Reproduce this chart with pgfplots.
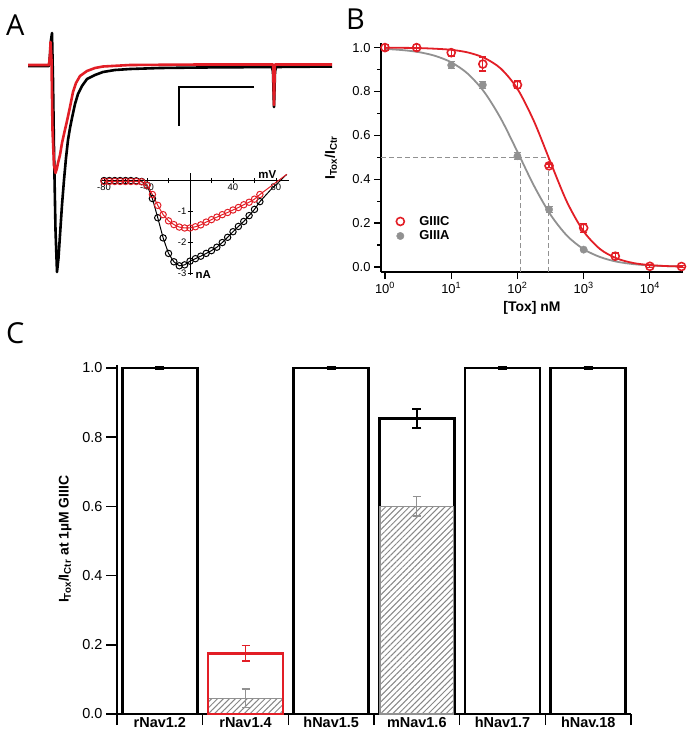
\documentclass[border=0pt]{standalone}
\usepackage{fontspec}
\setmainfont{Liberation Sans}
\newfontfamily\panelfont{Open Sans}
\usepackage{pgfplots}
\pgfplotsset{compat=1.18}
\usetikzlibrary{patterns.meta}
\definecolor{tred}{RGB}{226,30,38}
\definecolor{tgray}{RGB}{145,145,145}
\definecolor{hatch}{RGB}{135,135,135}

\begin{document}
\begin{tikzpicture}
\useasboundingbox (0bp,0bp) rectangle (695bp,-744bp);

% panel letters
\node[anchor=base west,inner sep=0pt,font=\panelfont\fontsize{29}{30}\selectfont] at (6bp,-35bp) {A};
\node[anchor=base west,inner sep=0pt,font=\panelfont\fontsize{29}{30}\selectfont] at (346bp,-29bp) {B};
\node[anchor=base west,inner sep=0pt,font=\panelfont\fontsize{29}{30}\selectfont] at (6bp,-343bp) {C};

% ---- A: current traces (pixel units, y down)
\begin{axis}[at={(0bp,0bp)}, anchor=north west, scale only axis,
  width=340bp, height=300bp, xmin=0, xmax=340, ymin=0, ymax=300,
  y dir=reverse, hide axis, clip=false]
\addplot[black, line width=2.6bp, line join=round] coordinates {
  (28,66)(49,66)(50,55)(51,40)(52,33)(53,80)(54,150)(55.5,230)(57,272)
  (58.5,258)(60,235)(62,205)(64,180)(66,158)(68,140)(70,128)(72,118)
  (75,104)(78,94)(82,86)(87,79)(95,75)(103,72)(115,70)(130,69)(160,68)
  (200,67.5)(272,67)(273,72)(274,107)(275,72)(276,67)(332,66.5)};
\addplot[tred, line width=2.6bp, line join=round] coordinates {
  (28,65)(49,65)(50,55)(50.5,42)(51.5,60)(52.5,130)(54,165)(55.5,173)
  (57,168)(58,163)(60,155)(62,143)(64,134)(67,121)(70,107)(73,92)(76,83)
  (80,76)(87,71)(95,68)(103,66.5)(130,65)(200,64.5)(273,64.5)(273.5,80)
  (274,105)(274.5,80)(275,64.5)(332,64.5)};
\addplot[black, line width=1.2bp] coordinates {(254,87)(179,87)(179,126)};
\end{axis}

% ---- A inset: I-V
\begin{axis}[at={(100.8bp,-275.1bp)}, anchor=south west, scale only axis,
  width=188.1bp, height=102.3bp, xmin=-83, xmax=92, ymin=-3.05, ymax=0.25,
  axis lines=middle, axis line style={-, line width=0.8bp},
  xtick={-80,-60,-40,-20,0,20,40,60,80}, xticklabels={-80,,-40,,,,40,,80},
  ytick={-3,-2,-1}, yticklabels={-3,-2,-1},
  tick align=center, major tick length=5bp, tick style={black, line width=0.8bp},
  ticklabel style={font=\fontsize{9.5}{10}\selectfont, inner sep=1bp},
  clip=false]
\addplot[black, line width=1bp, mark=o, mark size=3.2bp, mark options={line width=1bp}] coordinates {
  (-80,0)(-75,0)(-70,0)(-65,0)(-60,0)(-55,0)(-50,-0.01)(-45,-0.03)(-40,-0.15)
  (-35,-0.58)(-30,-1.2)(-25,-1.85)(-20,-2.35)(-15,-2.62)(-10,-2.75)(-5,-2.72)
  (0,-2.6)(5,-2.52)(10,-2.44)(15,-2.35)(20,-2.26)(25,-2.15)(30,-2.0)(35,-1.83)
  (40,-1.65)(45,-1.48)(50,-1.32)(55,-1.13)(60,-0.93)(65,-0.68)};
\addplot[black, line width=1bp] coordinates {(65,-0.68)(75,-0.3)(90,0.2)};
\addplot[tred, line width=1bp, mark=o, mark size=3.2bp, mark options={line width=1bp}] coordinates {
  (-80,-0.03)(-75,-0.03)(-70,-0.03)(-65,-0.03)(-60,-0.03)(-55,-0.03)(-50,-0.03)(-45,-0.04)
  (-40,-0.15)(-35,-0.45)(-30,-0.8)(-25,-1.1)(-20,-1.3)(-15,-1.42)(-10,-1.5)(-5,-1.53)
  (0,-1.53)(5,-1.49)(10,-1.43)(15,-1.34)(20,-1.26)(25,-1.18)(30,-1.1)(35,-1.03)
  (40,-0.95)(45,-0.87)(50,-0.78)(55,-0.7)(60,-0.6)(65,-0.45)};
\addplot[tred, line width=1bp] coordinates {(65,-0.45)(90,0.2)};
\node[anchor=south, font=\bfseries\fontsize{11.5}{12}\selectfont, inner sep=1bp] at (axis cs:72,0.02) {mV};
\node[anchor=west, font=\bfseries\fontsize{11.5}{12}\selectfont, inner sep=1bp] at (axis cs:4,-3.02) {nA};
\end{axis}

% ---- B: dose response
\begin{axis}[at={(381bp,-272bp)}, anchor=south west, scale only axis,
  width=302bp, height=229bp, xmode=log, xmin=0.87, xmax=31623,
  ymin=-0.023, ymax=1.021,
  axis lines=left, axis line style={-, line width=1.2bp},
  xtick={1,10,100,1000,10000},
  xticklabels={10\textsuperscript{0},10\textsuperscript{1},10\textsuperscript{2},10\textsuperscript{3},10\textsuperscript{4}},
  xminorticks=false,
  ytick={0,0.2,0.4,0.6,0.8,1.0}, minor ytick={0.1,0.3,0.5,0.7,0.9},
  yticklabels={0.0,0.2,0.4,0.6,0.8,1.0},
  tick align=outside, major tick length=7bp, minor tick length=4bp,
  tick style={black, line width=1.2bp},
  ticklabel style={font=\fontsize{13}{15}\selectfont},
  xlabel={[Tox] nM}, ylabel={I\textsubscript{Tox}/I\textsubscript{Ctr}},
  every axis x label/.style={at={(axis description cs:0.5,-0.157)}, anchor=center,
    font=\bfseries\fontsize{14}{16}\selectfont},
  every axis y label/.style={at={(axis description cs:-0.166,0.5)}, anchor=center, rotate=90,
    font=\bfseries\fontsize{14}{16}\selectfont},
  legend image code/.code={\path[draw=none] (-0.25cm,0cm) -- (0.6cm,0cm); \draw[#1] plot coordinates {(0cm,0cm)};},
  legend style={at={(axis description cs:0.03,0.262)}, anchor=north west, draw=none, fill=none,
    font=\bfseries\fontsize{13}{15}\selectfont, row sep=0bp},
  legend cell align=left,
  clip=false]
\addplot[tgray, line width=1bp, dash pattern=on 5bp off 3bp, forget plot] coordinates {(0.87,0.5)(295,0.5)};
\addplot[tgray, line width=1bp, dash pattern=on 5bp off 3bp, forget plot] coordinates {(110,-0.023)(110,0.5)};
\addplot[tgray, line width=1bp, dash pattern=on 5bp off 3bp, forget plot] coordinates {(295,-0.023)(295,0.5)};
\addplot[tgray, line width=1.8bp, smooth, forget plot] coordinates {
  (1,0.994)(1.778,0.989)(3.162,0.980)(5.623,0.963)(10,0.933)(17.78,0.881)(31.62,0.797)
  (56.23,0.676)(100,0.525)(177.8,0.370)(316.2,0.238)(562.3,0.142)(1000,0.081)
  (1778,0.045)(3162,0.024)(5623,0.013)(10000,0.007)(17783,0.004)(31623,0.002)};
\addplot[tred, line width=1.8bp, smooth, forget plot] coordinates {
  (1,0.9995)(1.778,0.999)(3.162,0.998)(5.623,0.995)(10,0.990)(17.78,0.978)(31.62,0.953)
  (56.23,0.904)(100,0.812)(177.8,0.664)(316.2,0.477)(562.3,0.295)(1000,0.162)
  (1778,0.081)(3162,0.039)(5623,0.018)(10000,0.0085)(17783,0.004)(31623,0.002)};
\addplot[tred, only marks, mark=o, mark size=4bp, mark options={line width=1.6bp, fill=white},
  error bars/.cd, y dir=both, y explicit,
  error bar style={line width=1.2bp, tred},
  error mark options={rotate=90, mark size=3.5bp, line width=1.2bp, tred}] coordinates {
  (1,1.0) +- (0,0.015) (3,1.0) +- (0,0.015) (10,0.977) +- (0,0.015) (30,0.925) +- (0,0.032)
  (100,0.83) +- (0,0.018) (300,0.461) +- (0,0.008) (1000,0.178) +- (0,0.02)
  (3000,0.049) +- (0,0.015) (10000,0.003) +- (0,0.006) (30000,0.002) +- (0,0.004)};
\addplot[tgray, only marks, mark=*, mark size=3.7bp,
  error bars/.cd, y dir=both, y explicit,
  error bar style={line width=1.2bp, tgray},
  error mark options={rotate=90, mark size=3.5bp, line width=1.2bp, tgray}] coordinates {
  (10,0.92) +- (0,0.015) (30,0.83) +- (0,0.015) (100,0.505) +- (0,0.015)
  (300,0.262) +- (0,0.015) (1000,0.079) +- (0,0.004)};
\legend{GIIIC,GIIIA}
\end{axis}

% ---- C: bar chart
\begin{axis}[at={(117bp,-714bp)}, anchor=south west, scale only axis,
  width=514bp, height=349.5bp, xmin=-0.5, xmax=5.5, ymin=0, ymax=1.01,
  axis lines=left, axis line style={-, line width=1.6bp},
  xtick={-0.5,0.5,1.5,2.5,3.5,4.5,5.5}, xticklabels={},
  extra x ticks={0,1,2,3,4,5},
  extra x tick labels={rNav1.2,rNav1.4,hNav1.5,mNav1.6,hNav1.7,hNav.18},
  extra x tick style={major tick length=0pt, ticklabel style={font=\bfseries\fontsize{14.5}{16}\selectfont}},
  ytick={0,0.2,0.4,0.6,0.8,1.0}, yticklabels={0.0,0.2,0.4,0.6,0.8,1.0},
  tick align=outside, major tick length=11bp,
  tick style={black, line width=1.6bp},
  ticklabel style={font=\fontsize{14.5}{16}\selectfont},
  ylabel={I\textsubscript{Tox}/I\textsubscript{Ctr} at 1µM GIIIC},
  every axis y label/.style={at={(axis description cs:-0.101,0.5)}, anchor=center, rotate=90,
    font=\bfseries\fontsize{14}{16}\selectfont},
  clip=false]
\addplot[ybar, bar width=0.875, bar shift=0pt, fill=white, draw=black, line width=2.8bp,
  error bars/.cd, y dir=both, y explicit,
  error bar style={line width=1.5bp, black},
  error mark options={rotate=90, mark size=4.5bp, line width=1.5bp, black}] coordinates {
  (0,1.0) +- (0,0.004) (2,1.0) +- (0,0.004) (3,0.854) +- (0,0.027)
  (4,1.0) +- (0,0.004) (5,1.0) +- (0,0.004)};
\addplot[ybar, bar width=0.875, bar shift=0pt, fill=white, draw=none] coordinates {(1,0.176)};
\addplot[ybar, bar width=0.86, bar shift=0pt, draw=tgray, line width=1.4bp,
  pattern={Lines[angle=45,distance=4.2bp,line width=1bp]}, pattern color=hatch,
  error bars/.cd, y dir=both, y explicit,
  error bar style={line width=1.2bp, tgray},
  error mark options={rotate=90, mark size=4bp, line width=1.2bp, tgray}] coordinates {
  (1,0.045) +- (0,0.027) (3,0.6) +- (0,0.028)};
\addplot[ybar, bar width=0.875, bar shift=0pt, fill=none, draw=tred, line width=2.8bp,
  error bars/.cd, y dir=both, y explicit,
  error bar style={line width=1.8bp, tred},
  error mark options={rotate=90, mark size=4bp, line width=1.8bp, tred}] coordinates {
  (1,0.176) +- (0,0.022)};
\end{axis}
\end{tikzpicture}
\end{document}
